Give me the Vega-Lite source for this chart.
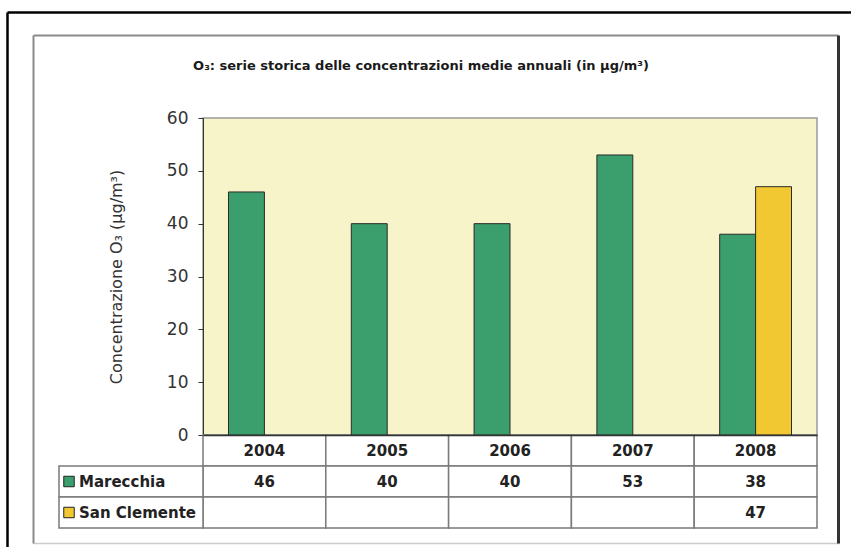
{
  "$schema": "https://vega.github.io/schema/vega-lite/v6.json",
  "width": 614,
  "height": 317,
  "autosize": {"type": "none"},
  "padding": {"left": 203, "top": 118, "right": 34, "bottom": 112},
  "background": "white",
  "title": {
    "text": "O₃: serie storica delle concentrazioni medie annuali (in µg/m³)",
    "font": "DejaVu Sans",
    "fontSize": 13,
    "fontWeight": "bold",
    "color": "#1a1a1a",
    "anchor": "middle",
    "frame": "group",
    "dx": -89,
    "offset": 0,
    "dy": 61
  },
  "config": {
    "view": {"fill": "#f7f4c9", "stroke": "#9a9a9a", "strokeWidth": 1.5},
    "font": "DejaVu Sans"
  },
  "datasets": {
    "bars": [
      {"year": "2004", "series": "Marecchia", "value": 46},
      {"year": "2005", "series": "Marecchia", "value": 40},
      {"year": "2006", "series": "Marecchia", "value": 40},
      {"year": "2007", "series": "Marecchia", "value": 53},
      {"year": "2008", "series": "Marecchia", "value": 38},
      {"year": "2008", "series": "San Clemente", "value": 47}
    ],
    "cells": [
      {"year": "2004", "row": "Anno"}, {"year": "2005", "row": "Anno"}, {"year": "2006", "row": "Anno"}, {"year": "2007", "row": "Anno"}, {"year": "2008", "row": "Anno"},
      {"year": "2004", "row": "Marecchia"}, {"year": "2005", "row": "Marecchia"}, {"year": "2006", "row": "Marecchia"}, {"year": "2007", "row": "Marecchia"}, {"year": "2008", "row": "Marecchia"},
      {"year": "2004", "row": "San Clemente"}, {"year": "2005", "row": "San Clemente"}, {"year": "2006", "row": "San Clemente"}, {"year": "2007", "row": "San Clemente"}, {"year": "2008", "row": "San Clemente"}
    ],
    "labels": [
      {"col": "Serie", "series": "Marecchia"},
      {"col": "Serie", "series": "San Clemente"}
    ],
    "frame": [{"v": 0}]
  },
  "resolve": {
    "scale": {"x": "independent", "y": "independent"},
    "axis": {"x": "independent", "y": "independent"}
  },
  "layer": [
    {
      "data": {"name": "frame"},
      "mark": {"type": "point", "opacity": 0},
      "encoding": {
        "x": {"field": "v", "type": "quantitative", "scale": {"domain": [0, 1], "range": [-196, 660], "nice": false, "zero": false},
              "axis": {"orient": "top", "offset": 106, "domainColor": "#000000", "domainWidth": 2.5, "ticks": false, "labels": false, "grid": false, "title": null}},
        "y": {"field": "v", "type": "quantitative", "scale": {"domain": [0, 1], "range": [440, -106], "nice": false, "zero": false},
              "axis": {"orient": "left", "offset": 196, "domainColor": "#000000", "domainWidth": 2.5, "ticks": false, "labels": false, "grid": false, "title": null}}
      }
    },
    {
      "data": {"name": "frame"},
      "mark": {"type": "point", "opacity": 0},
      "encoding": {
        "x": {"field": "v", "type": "quantitative", "scale": {"domain": [0, 1], "range": [-170, 635], "nice": false, "zero": false},
              "axis": {"orient": "top", "offset": 83, "domainColor": "#8a8a8a", "domainWidth": 2, "ticks": false, "labels": false, "grid": false, "title": null}},
        "y": {"field": "v", "type": "quantitative", "scale": {"domain": [0, 1], "range": [425, -83], "nice": false, "zero": false},
              "axis": {"orient": "left", "offset": 170, "domainColor": "#8a8a8a", "domainWidth": 2, "ticks": false, "labels": false, "grid": false, "title": null}}
      }
    },
    {
      "data": {"name": "frame"},
      "mark": {"type": "point", "opacity": 0},
      "encoding": {
        "x": {"field": "v", "type": "quantitative", "scale": {"domain": [0, 1], "range": [-170, 636], "nice": false, "zero": false},
              "axis": {"orient": "bottom", "offset": 108, "domainColor": "#cccccc", "domainWidth": 1.5, "ticks": false, "labels": false, "grid": false, "title": null}},
        "y": {"field": "v", "type": "quantitative", "scale": {"domain": [0, 1], "range": [425, -83], "nice": false, "zero": false},
              "axis": {"orient": "right", "offset": 21, "domainColor": "#333333", "domainWidth": 3, "ticks": false, "labels": false, "grid": false, "title": null}}
      }
    },
    {
      "data": {"name": "cells"},
      "mark": {"type": "rect", "fill": "white", "stroke": "#7a7a7a", "strokeWidth": 1.5},
      "encoding": {
        "x": {"field": "year", "type": "nominal", "scale": {"domain": ["2004", "2005", "2006", "2007", "2008"], "paddingInner": 0, "paddingOuter": 0}, "axis": null},
        "y": {"field": "row", "type": "nominal", "scale": {"domain": ["Anno", "Marecchia", "San Clemente"], "range": [317, 410], "paddingInner": 0, "paddingOuter": 0}, "axis": null}
      }
    },
    {
      "data": {"name": "labels"},
      "mark": {"type": "rect", "fill": "white", "stroke": "#7a7a7a", "strokeWidth": 1.5},
      "encoding": {
        "x": {"field": "col", "type": "nominal", "scale": {"domain": ["Serie"], "range": [-144, 0], "paddingInner": 0, "paddingOuter": 0}, "axis": null},
        "y": {"field": "series", "type": "nominal", "scale": {"domain": ["Anno", "Marecchia", "San Clemente"], "range": [317, 410], "paddingInner": 0, "paddingOuter": 0}, "axis": null}
      }
    },
    {
      "data": {"name": "bars"},
      "mark": {"type": "bar", "stroke": "#2a2a2a", "strokeWidth": 1},
      "encoding": {
        "x": {"field": "year", "type": "nominal", "scale": {"domain": ["2004", "2005", "2006", "2007", "2008"], "paddingInner": 0, "paddingOuter": 0},
              "axis": {"orient": "bottom", "labels": false, "ticks": false, "domainColor": "#333333", "domainWidth": 1.5, "title": null, "grid": false, "zindex": 2}},
        "xOffset": {"field": "series", "type": "nominal", "scale": {"domain": ["Marecchia", "San Clemente"], "paddingInner": 0, "paddingOuter": 0.71}},
        "y": {"field": "value", "type": "quantitative", "scale": {"domain": [0, 60], "nice": false},
              "axis": {"orient": "left", "title": "Concentrazione O₃ (µg/m³)", "values": [0, 10, 20, 30, 40, 50, 60], "grid": false, "tickSize": 5, "tickColor": "#333333", "domainColor": "#333333", "labelFont": "DejaVu Sans", "labelFontSize": 17, "labelColor": "#333333", "labelPadding": 10, "titleFont": "DejaVu Sans", "titleFontSize": 16, "titleFontWeight": "normal", "titleColor": "#333333", "titlePadding": 42}},
        "color": {"field": "series", "type": "nominal", "scale": {"domain": ["Marecchia", "San Clemente"], "range": ["#3a9e6d", "#f1c832"]}, "legend": null}
      }
    },
    {
      "data": {"name": "cells"},
      "transform": [{"filter": "datum.row === 'Anno'"}],
      "mark": {"type": "text", "font": "DejaVu Sans", "fontSize": 15, "fontWeight": "bold", "color": "#222222", "baseline": "middle", "align": "center"},
      "encoding": {
        "x": {"field": "year", "type": "nominal", "scale": {"domain": ["2004", "2005", "2006", "2007", "2008"], "paddingInner": 0, "paddingOuter": 0}, "axis": null},
        "y": {"field": "row", "type": "nominal", "scale": {"domain": ["Anno", "Marecchia", "San Clemente"], "range": [317, 410], "paddingInner": 0, "paddingOuter": 0}, "axis": null},
        "text": {"field": "year"}
      }
    },
    {
      "data": {"name": "bars"},
      "mark": {"type": "text", "font": "DejaVu Sans", "fontSize": 15, "fontWeight": "bold", "color": "#222222", "baseline": "middle", "align": "center"},
      "encoding": {
        "x": {"field": "year", "type": "nominal", "scale": {"domain": ["2004", "2005", "2006", "2007", "2008"], "paddingInner": 0, "paddingOuter": 0}, "axis": null},
        "y": {"field": "series", "type": "nominal", "scale": {"domain": ["Anno", "Marecchia", "San Clemente"], "range": [317, 410], "paddingInner": 0, "paddingOuter": 0}, "axis": null},
        "text": {"field": "value", "type": "quantitative"}
      }
    },
    {
      "data": {"name": "labels"},
      "mark": {"type": "point", "shape": "square", "size": 110, "filled": true, "opacity": 1, "stroke": "#222222", "strokeWidth": 1, "xOffset": -62},
      "encoding": {
        "x": {"field": "col", "type": "nominal", "scale": {"domain": ["Serie"], "range": [-144, 0], "paddingInner": 0, "paddingOuter": 0}, "axis": null},
        "y": {"field": "series", "type": "nominal", "scale": {"domain": ["Anno", "Marecchia", "San Clemente"], "range": [317, 410], "paddingInner": 0, "paddingOuter": 0}, "axis": null},
        "color": {"field": "series", "type": "nominal", "scale": {"domain": ["Marecchia", "San Clemente"], "range": ["#3a9e6d", "#f1c832"]}, "legend": null}
      }
    },
    {
      "data": {"name": "labels"},
      "mark": {"type": "text", "font": "DejaVu Sans", "fontSize": 15, "fontWeight": "bold", "color": "#222222", "baseline": "middle", "align": "left", "dx": -52},
      "encoding": {
        "x": {"field": "col", "type": "nominal", "scale": {"domain": ["Serie"], "range": [-144, 0], "paddingInner": 0, "paddingOuter": 0}, "axis": null},
        "y": {"field": "series", "type": "nominal", "scale": {"domain": ["Anno", "Marecchia", "San Clemente"], "range": [317, 410], "paddingInner": 0, "paddingOuter": 0}, "axis": null},
        "text": {"field": "series"}
      }
    }
  ]
}
